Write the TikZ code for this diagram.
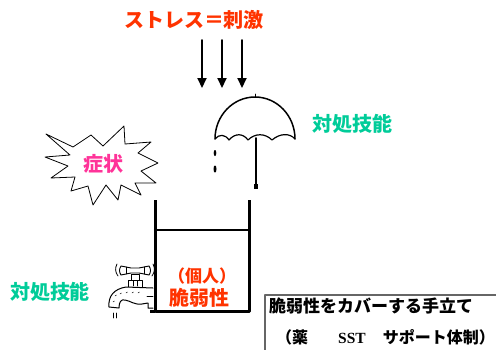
\documentclass[tikz,border=0pt]{standalone}
\usepackage{fontspec}
\newfontfamily\jp{Noto Sans CJK JP}
\newfontfamily\sstfont{Liberation Serif}
\usepackage{tikz}
\usetikzlibrary{arrows.meta}
\definecolor{stressred}{RGB}{255,51,0}
\definecolor{skillgreen}{RGB}{0,204,153}
\definecolor{symptompink}{RGB}{255,51,153}
\tikzset{
  jptext/.style={inner sep=0pt,font=\jp\bfseries\fontsize{#1}{#1}\selectfont},
  jptext/.default=20,
  wall/.style={line width=3pt,line cap=butt},
  drop/.style={fill=black},
}

\begin{document}
\begin{tikzpicture}[line cap=round,line join=round,>={Triangle[length=10pt,width=9pt]},x=1pt,y=-1pt]
\useasboundingbox (0,0) rectangle (496,349);
\clip (0,0) rectangle (496,349);
% stimulus from above
\node[jptext,text=stressred] (stress) at (194,20) {ストレス＝刺激};
\foreach \x/\n in {202/1,222/2,242/3}{
  \coordinate (rain\n) at (\x,40);
  \coordinate (hit\n) at (\x,88);
  \draw[->,line width=2pt] (rain\n) -- (hit\n);
}
% umbrella
\draw[line width=1.5pt] (215,139) arc[start angle=180,end angle=360,x radius=40,y radius=42];
\draw[line width=1.2pt] (215,139) .. controls (219,134) and (225,134) .. (229,140)
  .. controls (235,133) and (243,133) .. (248,140)
  .. controls (255,133) and (265,133) .. (272,140)
  .. controls (280,133) and (290,133) .. (295,139);
\draw[line width=1pt] (255,97) -- (255,94);
\draw[line width=2pt] (256,138) -- (256,186);
\fill (254,184) rectangle (258,189);
\fill[drop] (215,153) ellipse (1.3 and 3);
\fill[drop] (215,169) ellipse (1.5 and 3.5);
\node[jptext,text=skillgreen] (skillR) at (352,124) {対処技能};
% symptom burst
\draw[line width=0.8pt,fill=white] (46,134) -- (73,147) -- (91,135) -- (103,146) -- (124,126)
  -- (125,144) -- (151,142) -- (138,153) -- (158,163) -- (141,171) -- (156,183)
  -- (135,183) -- (141,195) -- (121,185) -- (118,200) -- (106,185) -- (93,205)
  -- (88,186) -- (71,191) -- (75,177) -- (51,178) -- (68,166) -- (45,157)
  -- (70,155) -- cycle;
\node[jptext,text=symptompink] (symptom) at (103,164) {症状};
% tank
\draw[wall] (155,200) -- (155,311) -- (249,311) -- (249,200);
\draw[line width=2.5pt] (155,230) -- (249,230);
\draw[wall] (150,311) -- (155,311);
\node[jptext=17,text=stressred] (person) at (202,276) {（個人）};
\node[jptext,text=stressred] (fragile) at (199,298) {脆弱性};
% faucet
\draw[line width=0.9pt,fill=white] (121,266) -- (131,268) -- (139,268) -- (149,266)
  .. controls (151,269) and (151,272) .. (149,275) -- (139,273) -- (131,273) -- (121,275)
  .. controls (119,272) and (119,269) .. (121,266) -- cycle;
\draw[line width=0.6pt] (126,267) -- (126,274) (144,267) -- (144,274);
\draw[line width=0.8pt] (117,264) .. controls (115,268) and (115,272) .. (118,276);
\draw[line width=0.8pt] (153,264) .. controls (155,268) and (155,272) .. (152,276);
\draw[line width=0.9pt,fill=white] (131,274) rectangle (139,280);
\draw[line width=0.9pt,fill=white] (128,280) rectangle (142,287);
\draw[line width=0.6pt] (133,281) -- (133,286) (137,281) -- (137,286);
\draw[line width=1pt,fill=white] (153,288) -- (126,287)
  .. controls (114,289) and (108,296) .. (109,307) -- (119,308)
  .. controls (119,302) and (121,299) .. (125,300)
  .. controls (131,301) and (134,305) .. (142,304) -- (148,303) -- (148,308) -- (153,308);
\draw[line width=0.6pt] (147,296) -- (153,296);
\foreach \x/\y in {115/296,120/294,126/293,132/293,138/293,113/302}
  \draw[line width=0.5pt] (\x,\y) -- ++(1.5,-1);
\draw[line width=0.6pt] (113,313) -- (113,318) (116,313) -- (116,318);
\node[jptext,text=skillgreen] (skillL) at (50,292) {対処技能};
% box with supports
\draw[line width=1.2pt,black!60] (265,352) -- (265,295) -- (500,295);
\node[jptext=17,anchor=west] (cover) at (269,306) {脆弱性をカバーする手立て};
\node[jptext=16,anchor=west] (means) at (276,337) {（薬\hspace{30pt}{\sstfont\fontsize{15.5}{16}\selectfont SST}\hspace{17pt}サポート体制）};
\end{tikzpicture}
\end{document}
